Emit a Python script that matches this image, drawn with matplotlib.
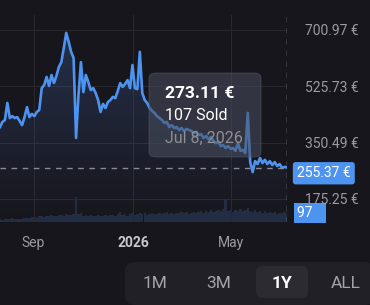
import matplotlib.pyplot as plt
import matplotlib.dates as mdates
from matplotlib.patches import FancyBboxPatch
import numpy as np
import pandas as pd

plt.rcParams['font.family'] = ['Roboto', 'DejaVu Sans']

# price per 3 days (EUR)
price = [399, 415, 421, 474, 427, 433, 427, 430, 418, 405,
         430, 461, 430, 440, 433, 446, 452, 520, 530, 555,
         527, 561, 536, 558, 586, 601, 645, 692, 664, 633,
         614, 365, 499, 601, 508, 561, 539, 514, 520, 505,
         483, 446, 471, 458, 477, 483, 493, 489, 511, 536,
         524, 533, 545, 520, 592, 520, 517, 633, 505, 483,
         474, 458, 449, 443, 433, 427, 421, 412, 415, 399,
         405, 396, 399, 390, 396, 387, 393, 390, 387, 381,
         384, 374, 377, 365, 371, 362, 368, 356, 349, 353,
         340, 343, 334, 340, 331, 334, 325, 349, 325, 328,
         318, 443, 290, 259, 293, 284, 303, 287, 297, 284,
         293, 281, 290, 278, 284, 272, 275, 273.11]

# items sold per point
sold = [30, 25, 35, 28, 30, 40, 32, 28, 35, 30,
        38, 45, 40, 50, 55, 48, 60, 65, 58, 70,
        62, 75, 68, 60, 72, 80, 70, 85, 78, 75,
        90, 270, 85, 95, 70, 80, 65, 72, 60, 68,
        75, 62, 70, 78, 66, 72, 80, 70, 85, 110,
        75, 82, 70, 88, 95, 80, 90, 100, 85, 92,
        78, 88, 95, 82, 90, 100, 88, 95, 105, 90,
        98, 85, 92, 100, 110, 95, 105, 90, 100, 112,
        95, 108, 120, 100, 115, 105, 125, 110, 118, 130,
        120, 135, 250, 115, 125, 110, 130, 120, 140, 115,
        125, 150, 120, 110, 130, 105, 115, 100, 120, 95,
        110, 100, 105, 90, 100, 95, 105, 97]

dates = pd.date_range('2025-07-22', periods=len(price), freq='3D')

yticks = [175.25, 350.49, 525.73, 700.97]
xtick_dates = pd.to_datetime(['2025-09-01', '2026-01-01', '2026-05-01'])
xtick_labels = ['Sep', '2026', 'May']
last_price = 255.37
hover_price = 273.11
hover_sold = 107
hover_date = 'Jul 8, 2026'
ranges = ['1M', '3M', '1Y', 'ALL']

BG = '#17161c'
BLUE = '#4d94f0'
GRID = '#28282f'
TXT = '#9b9ba1'

fig = plt.figure(figsize=(3.7, 3.05), dpi=100, facecolor=BG)
W, H = 370, 305
ax = fig.add_axes([0, (H - 222) / H, 287 / W, 207 / H])
ax.set_facecolor('none')
for s in ax.spines.values():
    s.set_visible(False)

ymin, ymax = 103.7, 747.6
ax.set_ylim(ymin, ymax)
ax.set_xlim(dates[0], dates[-1])

# volume on twin axis
vax = ax.twinx()
vax.set_ylim(0, 2230)
vax.bar(dates, sold, width=3.0, color='#24304a', alpha=0.85, zorder=1)
vax.axis('off')
ax.set_zorder(vax.get_zorder() + 1)

# gradient under the line
poly = ax.fill_between(dates, price, ymin, color='none')
x0, x1 = mdates.date2num(dates[0]), mdates.date2num(dates[-1])
grad = np.linspace(0.28, 0.0, 256).reshape(-1, 1)
rgba = np.zeros((256, 1, 4))
rgba[..., 0], rgba[..., 1], rgba[..., 2] = 0.30, 0.45, 0.75
rgba[..., 3] = grad
im = ax.imshow(rgba, extent=[x0, x1, ymin, max(price)], aspect='auto', origin='upper', zorder=2)
im.set_clip_path(poly.get_paths()[0], transform=ax.transData)

ax.plot(dates, price, color=BLUE, lw=1.9, zorder=3, solid_joinstyle='round')

# grid
ax.set_yticks(yticks)
ax.set_yticklabels([f'{v:.2f} €' for v in yticks])
ax.yaxis.tick_right()
ax.set_xticks(xtick_dates)
ax.set_xticklabels(xtick_labels)
ax.tick_params(axis='y', length=0, pad=13, labelsize=10, labelcolor=TXT)
ax.tick_params(axis='x', length=0, pad=10, labelsize=10, labelcolor=TXT)
ax.get_xticklabels()[1].set_fontweight('bold')
ax.get_xticklabels()[1].set_color('#c8c8cc')
ax.grid(True, color=GRID, lw=0.8)
ax.set_axisbelow(True)

# crosshair
ax.axhline(hover_price, color='#8a8a90', lw=1, ls=(0, (4, 4)), zorder=4)
ax.axvline(dates[-1], color='#b0b0b5', lw=1, ls=(0, (4, 4)), zorder=4)

# last price and volume labels
ax.text(297 / 287, last_price, f'{last_price:.2f} €', transform=ax.get_yaxis_transform(),
        ha='left', va='center', fontsize=10, color='white', zorder=6, clip_on=False,
        bbox=dict(boxstyle='round,pad=0.3,rounding_size=0.2', fc=BLUE, ec='none'))
vax.text(297 / 287, sold[-1], f'{sold[-1]}   ', transform=vax.get_yaxis_transform(),
         ha='left', va='center', fontsize=10, color='white', zorder=6, clip_on=False,
         bbox=dict(boxstyle='square,pad=0.25', fc=BLUE, ec='none'))

# tooltip
tip = FancyBboxPatch((149 / 287, (222 - 157) / 207), 112 / 287, 84 / 207,
                     boxstyle='round,pad=0,rounding_size=0.025', transform=ax.transAxes,
                     fc='#4a5060', ec='#5a606e', lw=0.6, alpha=0.55, zorder=5)
ax.add_patch(tip)
ax.text(165 / 287, (222 - 94) / 207, f'{hover_price:.2f} €', transform=ax.transAxes,
        fontsize=12.5, fontweight='bold', color='white', va='center', zorder=6)
ax.text(165 / 287, (222 - 116) / 207, f'{hover_sold} Sold', transform=ax.transAxes,
        fontsize=11.5, color='white', va='center', zorder=6)
ax.text(165 / 287, (222 - 138) / 207, hover_date, transform=ax.transAxes,
        fontsize=11.5, color='#8e8e95', va='center', zorder=6)

# range selector
bar = FancyBboxPatch((125 / W, 0), 250 / W, 43 / H, boxstyle='round,pad=0,rounding_size=0.03',
                     transform=fig.transFigure, fc='#202026', ec='none')
fig.patches.append(bar)
sel = FancyBboxPatch((256 / W, 7 / H), 52 / W, 32 / H, boxstyle='round,pad=0,rounding_size=0.02',
                     transform=fig.transFigure, fc='#2b2b31', ec='none')
fig.patches.append(sel)
for lab, xc in zip(ranges, [155, 219, 282, 346]):
    fig.text(xc / W, 22 / H, lab, ha='center', va='center', fontsize=12.5,
             color='white' if lab == '1Y' else '#a3a3a8',
             fontweight='bold' if lab == '1Y' else 'normal')

fig.savefig('out.png', dpi=100, facecolor=BG)
